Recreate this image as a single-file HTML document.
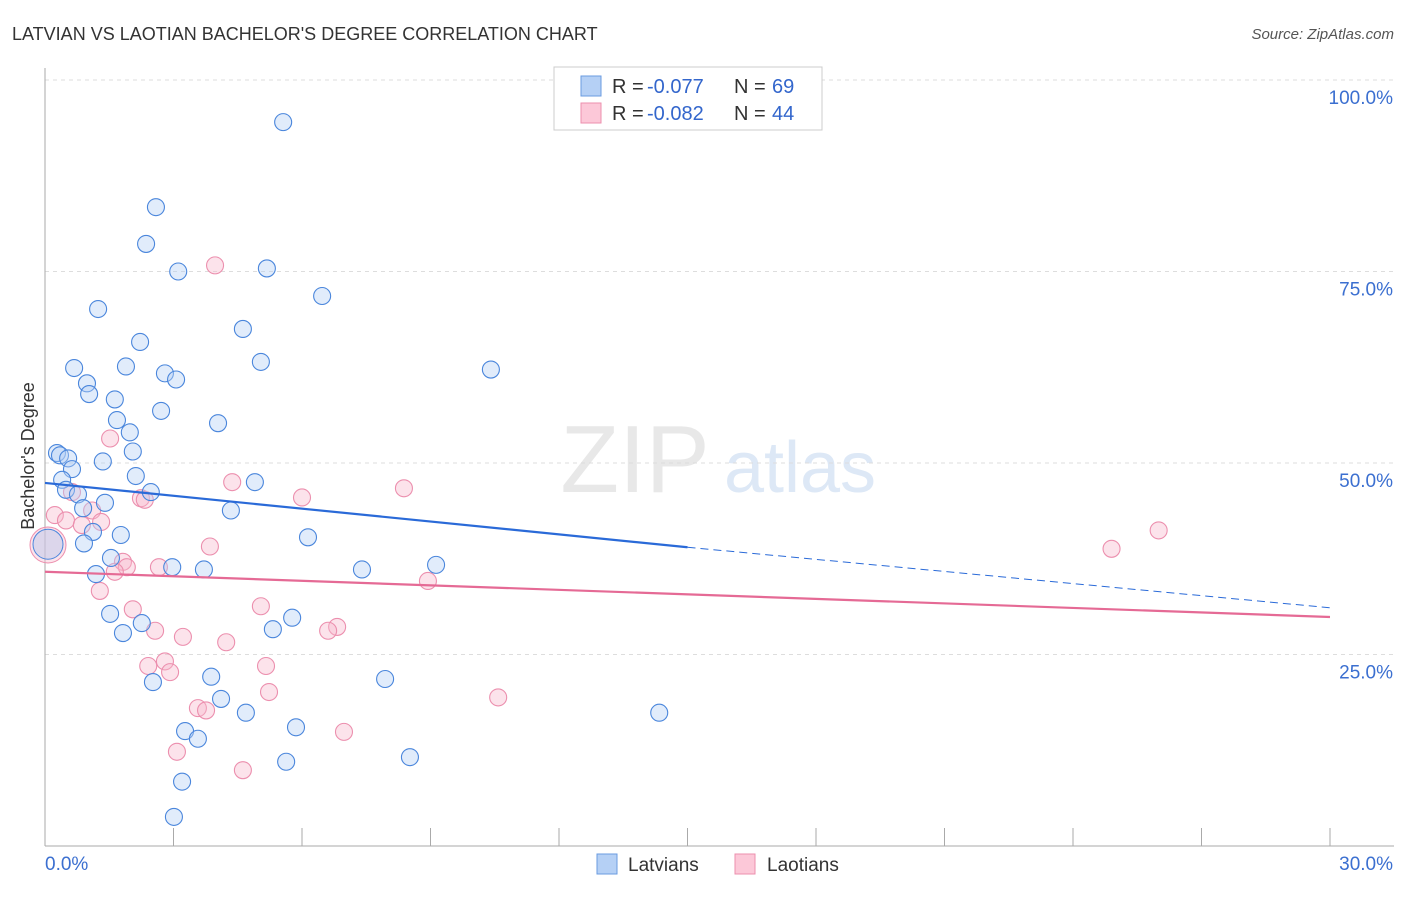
<!DOCTYPE html>
<html><head><meta charset="utf-8"><style>
body{margin:0;background:#fff;font-family:"Liberation Sans",sans-serif;}
svg text{font-family:"Liberation Sans",sans-serif;}
</style></head><body>
<svg width="1406" height="892" xmlns="http://www.w3.org/2000/svg" id="chart">
<text x="12" y="40" font-size="18" fill="#333">LATVIAN VS LAOTIAN BACHELOR'S DEGREE CORRELATION CHART</text>
<text x="1394" y="39" font-size="15" fill="#555" text-anchor="end" font-style="italic">Source: ZipAtlas.com</text>
<text x="635" y="492" font-size="96" fill="#e8e8e8" font-family="Liberation Serif" text-anchor="middle">ZIP</text>
<text x="800" y="492" font-size="72" fill="#dde8f6" text-anchor="middle">atlas</text>
<g id="grid"></g>
<g id="axes"></g>
<g id="pts"></g>
<g id="trends"></g>
<text x="34" y="456" font-size="18" fill="#333" text-anchor="middle" transform="rotate(-90 34 456)">Bachelor's Degree</text>
<g>
<rect x="554" y="67" width="268" height="63" fill="#fff" stroke="#ccc"/>
<rect x="581" y="76" width="20" height="20" fill="#b5d0f5" stroke="#6a9be0"/>
<rect x="581" y="103" width="20" height="20" fill="#fcc8d8" stroke="#ec8fae"/>
<text x="612" y="93" font-size="20" fill="#333">R =</text>
<text x="647" y="93" font-size="20" fill="#3366cc">-0.077</text>
<text x="734" y="93" font-size="20" fill="#333">N =</text>
<text x="772" y="93" font-size="20" fill="#3366cc">69</text>
<text x="612" y="120" font-size="20" fill="#333">R =</text>
<text x="647" y="120" font-size="20" fill="#3366cc">-0.082</text>
<text x="734" y="120" font-size="20" fill="#333">N =</text>
<text x="772" y="120" font-size="20" fill="#3366cc">44</text>
</g>
<g>
<rect x="597" y="854" width="20" height="20" fill="#b5d0f5" stroke="#6a9be0"/>
<text x="628" y="871" font-size="19" fill="#333">Latvians</text>
<rect x="735" y="854" width="20" height="20" fill="#fcc8d8" stroke="#ec8fae"/>
<text x="767" y="871" font-size="19" fill="#333">Laotians</text>
</g>
</svg>
<script>
const yTicks=[25,50,75,100];
const yTickLabels=["25.0%","50.0%","75.0%","100.0%"];
const xTicks=[0,3,6,9,12,15,18,21,24,27,30];
const latX=[5.56,2.59,2.36,3.11,5.18,6.47,1.24,4.62,2.22,5.04,0.68,1.89,10.41,2.80,3.06,0.98,1.03,1.63,2.71,1.68,4.04,1.98,2.05,0.28,0.35,0.54,1.35,0.63,2.12,0.40,4.90,2.47,0.49,0.77,1.40,0.89,4.34,1.12,1.77,6.14,0.91,1.54,2.97,3.71,9.13,7.40,1.19,1.52,5.77,2.26,5.32,1.82,3.88,7.94,2.52,4.11,14.34,4.69,5.86,3.27,3.57,8.52,5.63,3.20,3.01];
const latY=[94.5,83.4,78.6,75.0,75.4,71.8,70.1,67.5,65.8,63.2,62.4,62.6,62.2,61.7,60.9,60.4,59.0,58.3,56.8,55.6,55.2,54.0,51.5,51.3,51.0,50.6,50.2,49.2,48.3,47.8,47.5,46.2,46.5,45.9,44.8,44.1,43.8,41.0,40.6,40.3,39.5,37.6,36.4,36.1,36.7,36.1,35.5,30.3,29.8,29.1,28.3,27.8,22.1,21.8,21.4,19.2,17.4,17.4,15.5,15.0,14.0,11.6,11.0,8.4,3.8];
const laoX=[3.97,1.52,4.37,8.38,6.00,2.24,2.33,0.63,0.23,0.49,1.10,1.31,0.86,26.0,24.9,3.85,1.82,1.91,1.63,2.66,8.94,1.28,5.04,2.05,6.82,6.61,2.57,3.22,4.23,2.80,2.41,5.16,2.92,5.23,10.58,3.57,3.76,6.98,3.08,4.62];
const laoY=[75.8,53.2,47.5,46.7,45.5,45.4,45.2,46.2,43.2,42.5,43.8,42.3,41.9,41.2,38.8,39.1,37.1,36.4,35.8,36.4,34.6,33.3,31.3,30.9,28.6,28.1,28.1,27.3,26.6,24.1,23.5,23.5,22.7,20.1,19.4,18.0,17.7,14.9,12.3,9.9];
const latTrend=[47.4,39.0,31.1]; // at x=0, 15, 30
const laoTrend=[35.8,29.9];       // at x=0, 30
const X=v=>45+v/30*1285, Y=v=>846-v/100*766;
const NS="http://www.w3.org/2000/svg";
function mk(p,t,a){const e=document.createElementNS(NS,t);for(const k in a)e.setAttribute(k,a[k]);p.appendChild(e);return e;}
const grid=document.getElementById('grid'),axes=document.getElementById('axes'),pts=document.getElementById('pts'),tr=document.getElementById('trends');
yTicks.forEach((t,i)=>{
 const l=mk(grid,'line',{x1:45,x2:1394,y1:Y(t),y2:Y(t),stroke:'#ddd','stroke-dasharray':'4 4'});
 
 
 const tx=mk(axes,'text',{x:1393,y:Y(t)+24,'font-size':19,fill:'#3b6fd0','text-anchor':'end'});
 tx.textContent=yTickLabels[i];
 
 
});
mk(axes,'line',{x1:45,x2:45,y1:68,y2:846,stroke:'#aaa'});
mk(axes,'line',{x1:45,x2:1394,y1:846,y2:846,stroke:'#aaa'});
xTicks.forEach(t=>{const l=mk(axes,'line',{x1:X(t),x2:X(t),y1:828,y2:846,stroke:'#aaa'});
 
 });
let a=mk(axes,'text',{x:45,y:870,'font-size':19,fill:'#3b6fd0'});a.textContent='0.0%';
a=mk(axes,'text',{x:1393,y:870,'font-size':19,fill:'#3b6fd0','text-anchor':'end'});a.textContent='30.0%';
function dots(xs,ys,fill,stroke,name){xs.forEach((x,i)=>{const c=mk(pts,'circle',{cx:X(x),cy:Y(ys[i]),r:8.5,fill:fill,'fill-opacity':0.4,stroke:stroke,'stroke-width':1.1});
 
 });}
dots(laoX,laoY,'#f8b9cc','#ec8fae','laotian-point');
dots(latX,latY,'#b5d0f5','#4a86dc','latvian-point');
let b=mk(pts,'circle',{cx:X(0.07),cy:Y(39.3),r:18,fill:'#f8b9cc','fill-opacity':0.4,stroke:'#ec8fae'});


b=mk(pts,'circle',{cx:X(0.07),cy:Y(39.4),r:15,fill:'#b5c5ea','fill-opacity':0.45,stroke:'#4a86dc'});


let t=mk(tr,'line',{x1:X(0),y1:Y(latTrend[0]),x2:X(15),y2:Y(latTrend[1]),stroke:'#2a6ad8','stroke-width':2.2});


t=mk(tr,'line',{x1:X(15),y1:Y(latTrend[1]),x2:X(30),y2:Y(latTrend[2]),stroke:'#2a6ad8','stroke-width':1,'stroke-dasharray':'8 5'});


t=mk(tr,'line',{x1:X(0),y1:Y(laoTrend[0]),x2:X(30),y2:Y(laoTrend[1]),stroke:'#e56a95','stroke-width':2.2});


</script>
</body></html>
